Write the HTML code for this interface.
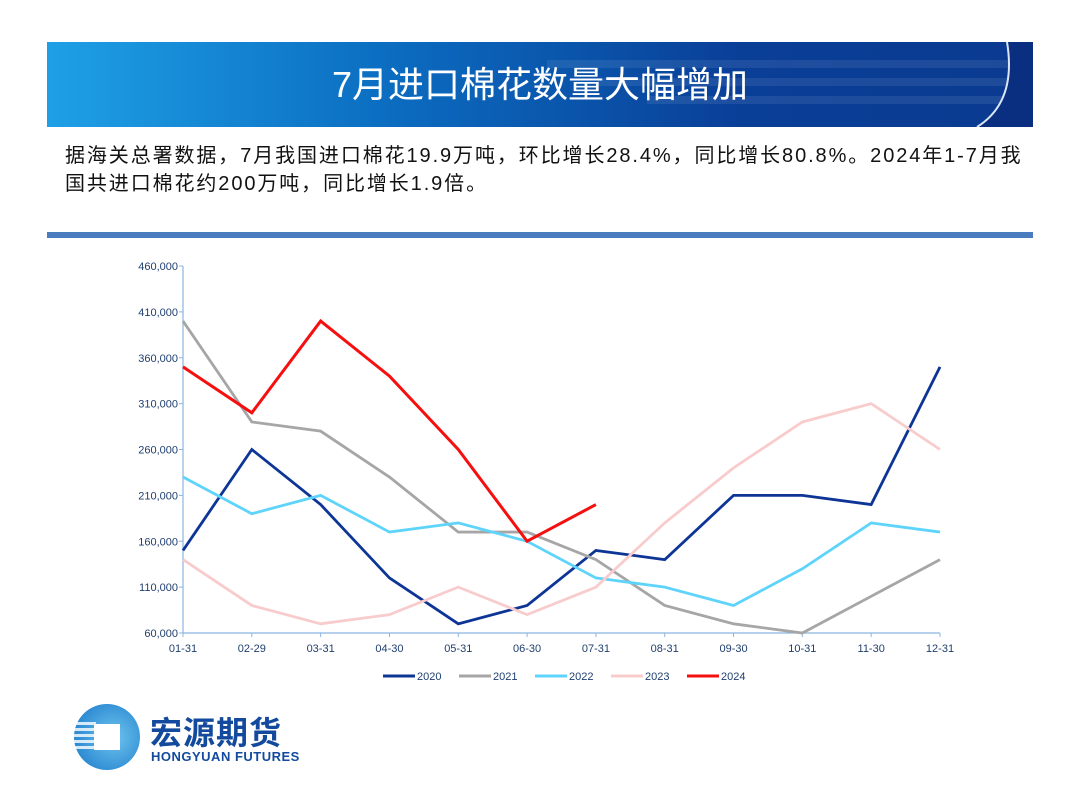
<!DOCTYPE html>
<html><head><meta charset="utf-8"><style>
body{margin:0;width:1080px;height:810px;background:#fff;position:relative;overflow:hidden;font-family:"Liberation Sans","Noto Sans CJK SC",sans-serif}
.banner{position:absolute;left:47px;top:42px;width:986px;height:85px;background:linear-gradient(90deg,#1ea0e6 0%,#0b6cc0 35%,#0a3f98 70%,#0a3a90 100%);overflow:hidden}
.title{position:absolute;left:0;top:42px;width:1080px;height:85px;line-height:85px;text-align:center;color:#fff;font-size:36px}
.txt{position:absolute;left:65px;top:142px;width:1010px;font-size:20px;letter-spacing:1.9px;line-height:28px;color:#111;white-space:nowrap}
.bar{position:absolute;left:47px;top:232px;width:986px;height:6px;background:#4a7cc0}
</style></head><body>
<div class="banner">
<svg width="986" height="85" style="position:absolute;left:0;top:0">
<g fill="#ffffff" opacity="0.08"><rect x="500" y="18" width="486" height="8"/><rect x="550" y="36" width="436" height="8"/><rect x="600" y="54" width="386" height="8"/></g>
<path d="M986 0 L986 85 L930 85 Q970 60 960 0 Z" fill="#0a2f80"/>
<path d="M930 85 Q970 60 960 0" stroke="#dbe6f5" stroke-width="2" fill="none"/>
</svg></div>
<div class="title">7月进口棉花数量大幅增加</div>
<div class="txt">据海关总署数据，7月我国进口棉花19.9万吨，环比增长28.4%，同比增长80.8%。2024年1-7月我<br>国共进口棉花约200万吨，同比增长1.9倍。</div>
<div class="bar"></div>
<svg id="chart" width="1080" height="810" style="position:absolute;left:0;top:0"></svg>
<div style="position:absolute;left:74px;top:704px;width:66px;height:66px;border-radius:50%;background:radial-gradient(circle at 60% 50%,#6ec3ee,#1677c8)">
<div style="position:absolute;left:20px;top:20px;width:26px;height:26px;background:#fff"></div>
<div style="position:absolute;left:0;top:18px;width:22px;height:30px;background:repeating-linear-gradient(#fff 0 3px,transparent 3px 6px);opacity:.8"></div></div>
<div style="position:absolute;left:150px;top:708px;font-size:32px;font-weight:bold;color:#134a9e;letter-spacing:1px">宏源期货</div>
<div style="position:absolute;left:151px;top:749px;font-size:13px;font-weight:bold;color:#134a9e;letter-spacing:0.5px">HONGYUAN FUTURES</div>
<script>
const categories=["01-31","02-29","03-31","04-30","05-31","06-30","07-31","08-31","09-30","10-31","11-30","12-31"];
const yTicks=[60000,110000,160000,210000,260000,310000,360000,410000,460000];
const s2020=[150000,260000,200000,120000,70000,90000,150000,140000,210000,210000,200000,350000];
const s2021=[400000,290000,280000,230000,170000,170000,140000,90000,70000,60000,100000,140000];
const s2022=[230000,190000,210000,170000,180000,160000,120000,110000,90000,130000,180000,170000];
const s2023=[140000,90000,70000,80000,110000,80000,110000,180000,240000,290000,310000,260000];
const s2024=[350000,300000,400000,340000,260000,160000,200000];
const seriesNames=["2020","2021","2022","2023","2024"];
const series=[s2020,s2021,s2022,s2023,s2024];
const colors=["#0d3596","#a6a6a6","#5fd4fb","#f8cccc","#f60f0f"];
const svg=document.getElementById('chart');const NS="http://www.w3.org/2000/svg";
const x0=183,x1=940,yB=633,yT=266,vmin=60000,vmax=460000;
const X=i=>x0+i*(x1-x0)/(categories.length-1);
const Y=v=>yB-(v-vmin)/(vmax-vmin)*(yB-yT);
function mk(t,a){const e=document.createElementNS(NS,t);for(const k in a)e.setAttribute(k,a[k]);svg.appendChild(e);return e;}
let ax=mk('path',{d:`M${x0} ${yT}V${yB}H${x1}`,stroke:'#8cb4e0','stroke-width':1.2,fill:'none'});


yTicks.forEach(v=>{const y=Y(v);mk('line',{x1:x0-4,x2:x0,y1:y,y2:y,stroke:'#8cb4e0'});
const t=mk('text',{x:x0-5,y:y+4,'text-anchor':'end','font-size':11,fill:'#1f3f6e'});t.textContent=v.toLocaleString('en-US');

});
categories.forEach((c,i)=>{const x=X(i);mk('line',{x1:x,x2:x,y1:yB,y2:yB+4,stroke:'#8cb4e0'});
const t=mk('text',{x:x,y:yB+19,'text-anchor':'middle','font-size':11,fill:'#1f3f6e'});t.textContent=c;

});
series.forEach((s,k)=>{const p=mk('polyline',{points:s.map((v,i)=>X(i)+','+Y(v)).join(' '),fill:'none',stroke:colors[k],'stroke-width':k==4?3:2.8,'stroke-linejoin':'miter'});


const lx=383+k*76;mk('line',{x1:lx,x2:lx+32,y1:676,y2:676,stroke:colors[k],'stroke-width':3});
const t=mk('text',{x:lx+34,y:680,'font-size':11,fill:'#1f3f6e'});t.textContent=seriesNames[k];

});
</script>
</body></html>
